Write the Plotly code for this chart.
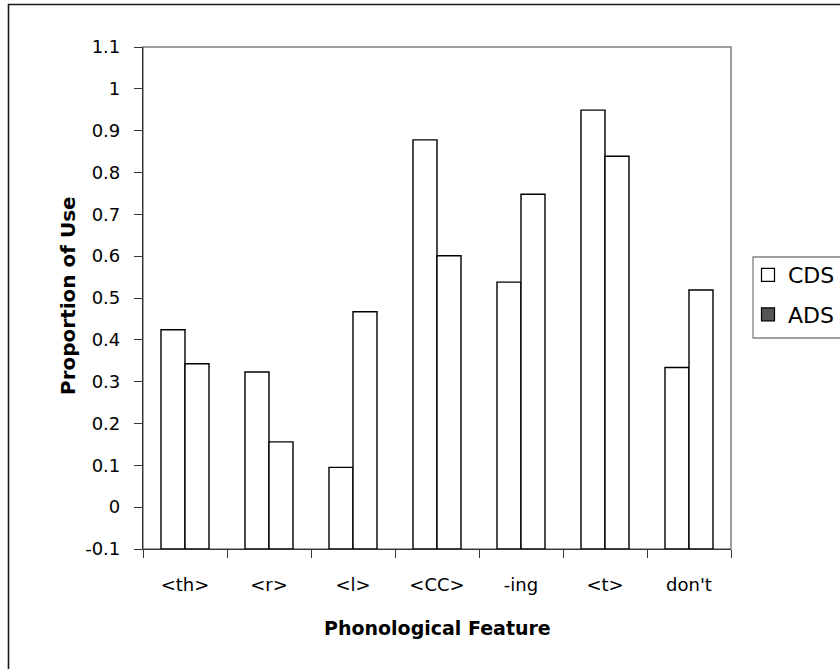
import plotly.graph_objects as go

categories = ["<th>", "<r>", "<l>", "<CC>", "-ing", "<t>", "don't"]
cds_values = [0.424, 0.323, 0.095, 0.878, 0.538, 0.949, 0.334]
ads_values = [0.343, 0.156, 0.467, 0.601, 0.748, 0.839, 0.519]
y_tickvals = [-0.1, 0, 0.1, 0.2, 0.3, 0.4, 0.5, 0.6, 0.7, 0.8, 0.9, 1.0, 1.1]
y_ticktext = ["-0.1", "0", "0.1", "0.2", "0.3", "0.4", "0.5", "0.6", "0.7", "0.8", "0.9", "1", "1.1"]
axis_min = -0.1
axis_max = 1.1

FONT = "DejaVu Sans"

fig = go.Figure()
for name, vals in [("CDS", cds_values), ("ADS", ads_values)]:
    fig.add_trace(go.Bar(
        x=categories,
        y=[v - axis_min for v in vals],
        base=axis_min,
        name=name,
        showlegend=False,
        marker=dict(color="white", line=dict(color="black", width=1.4)),
    ))

# legend-only entries
fig.add_trace(go.Scatter(x=[None], y=[None], mode="markers", name="CDS", legendgroup="a",
                         marker=dict(symbol="square", size=13, color="white",
                                     line=dict(color="black", width=1.2))))
fig.add_trace(go.Scatter(x=[None], y=[None], mode="markers", name="ADS", legendgroup="b",
                         marker=dict(symbol="square", size=13, color="#555555",
                                     line=dict(color="black", width=1.2))))

L, T, R, B = 143, 47, 731, 549
W, H = 840, 669
pw, ph = R - L, B - T

def px(x):
    return (x - L) / pw

def py(y):
    return (B - y) / ph

fig.update_layout(
    width=W, height=H,
    margin=dict(l=L, r=W - R, t=T, b=H - B, autoexpand=False),
    paper_bgcolor="white", plot_bgcolor="white",
    barmode="group", bargap=0.4286, bargroupgap=0,
    font=dict(family=FONT, size=18, color="black"),
    showlegend=True,
    legend=dict(x=px(748), y=py(254), xanchor="left", yanchor="top",
                borderwidth=0, bgcolor="rgba(0,0,0,0)",
                font=dict(family=FONT, size=22, color="black"),
                traceorder="grouped", tracegroupgap=8,
                itemwidth=30),
    xaxis=dict(type="category", tickson="boundaries", ticks="outside", ticklen=8,
               tickcolor="#333333", showline=True, linecolor="#333333", linewidth=1.2,
               showgrid=False, ticklabelstandoff=19,
               tickfont=dict(family=FONT, size=18, color="black")),
    yaxis=dict(range=[axis_min, axis_max], tickvals=y_tickvals, ticktext=y_ticktext,
               ticks="outside", ticklen=8, tickcolor="#333333",
               showline=True, linecolor="#333333", linewidth=1.2,
               showgrid=False, zeroline=False, ticklabelstandoff=10,
               tickfont=dict(family=FONT, size=18, color="black")),
    shapes=[
        dict(type="rect", xref="paper", yref="paper", x0=0, x1=1, y0=0, y1=1,
             line=dict(color="#808080", width=1.5), layer="below"),
        dict(type="rect", xref="paper", yref="paper",
             x0=px(8.5), x1=px(850), y0=py(4.5), y1=py(680),
             line=dict(color="#1a1a1a", width=1.6), layer="below"),
        dict(type="rect", xref="paper", yref="paper",
             x0=px(753), x1=px(860), y0=py(257), y1=py(338),
             line=dict(color="#808080", width=1.3), fillcolor="white", layer="below"),
    ],
    annotations=[
        dict(text="<b>Phonological Feature</b>", xref="paper", yref="paper",
             x=px(438), y=py(628), xanchor="center", yanchor="middle", showarrow=False,
             font=dict(family=FONT, size=19, color="black")),
        dict(text="<b>Proportion of Use</b>", xref="paper", yref="paper",
             x=px(68), y=py(296), xanchor="center", yanchor="middle", showarrow=False,
             textangle=-90, font=dict(family=FONT, size=20, color="black")),
    ],
)

fig.write_html("out.html")
